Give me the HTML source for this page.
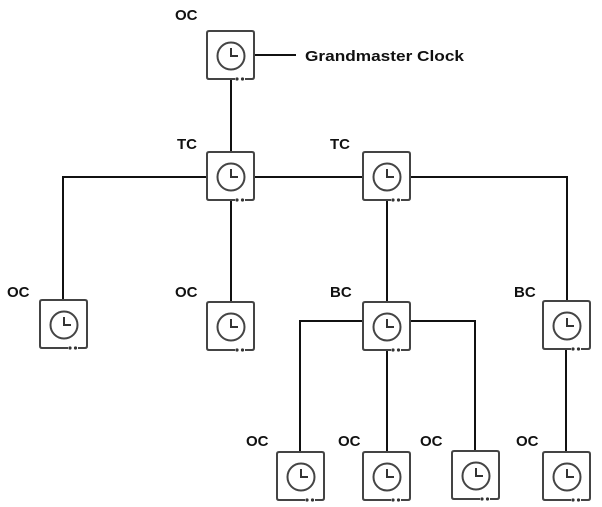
<!DOCTYPE html>
<html><head><style>
html,body{margin:0;padding:0;background:#fff;}
svg{display:block}
text{font-family:"Liberation Sans",sans-serif;font-weight:bold;font-size:15px;fill:#111}
</style></head><body>
<svg width="602" height="507" viewBox="0 0 602 507">
<defs>
<g id="n">
<path d="M28 48 H2 Q0 48 0 46 V2 Q0 0 2 0 H45 Q47 0 47 2 V46 Q47 48 45 48 H38" fill="#fff" stroke="#444" stroke-width="2"/>
<circle cx="30" cy="48" r="1.6" fill="#333"/>
<circle cx="35.5" cy="48" r="1.6" fill="#333"/>
<circle cx="24" cy="25" r="13.5" fill="none" stroke="#444" stroke-width="2"/>
<path d="M24 17 V25 H31" fill="none" stroke="#333" stroke-width="2"/>
</g>
</defs>
<g stroke="#111" stroke-width="2" fill="none">
<path d="M231 79 V152"/>
<path d="M254 55 H296"/>
<path d="M63 300 V177 H567 V300"/>
<path d="M231 200 V302"/>
<path d="M387 200 V302"/>
<path d="M387 350 V452"/>
<path d="M363 321 H300 V452"/>
<path d="M411 321 H475 V452"/>
<path d="M566 349 V452"/>
</g>
<use href="#n" x="207" y="31"/>
<use href="#n" x="207" y="152"/>
<use href="#n" x="363" y="152"/>
<use href="#n" x="40" y="300"/>
<use href="#n" x="207" y="302"/>
<use href="#n" x="363" y="302"/>
<use href="#n" x="543" y="301"/>
<use href="#n" x="277" y="452"/>
<use href="#n" x="363" y="452"/>
<use href="#n" x="452" y="451"/>
<use href="#n" x="543" y="452"/>
<text x="175" y="20">OC</text>
<text x="305" y="61" textLength="159" lengthAdjust="spacingAndGlyphs">Grandmaster Clock</text>
<text x="177" y="149">TC</text>
<text x="330" y="149">TC</text>
<text x="7" y="297">OC</text>
<text x="175" y="297">OC</text>
<text x="330" y="297">BC</text>
<text x="514" y="297">BC</text>
<text x="246" y="446">OC</text>
<text x="338" y="446">OC</text>
<text x="420" y="446">OC</text>
<text x="516" y="446">OC</text>
</svg>
</body></html>
